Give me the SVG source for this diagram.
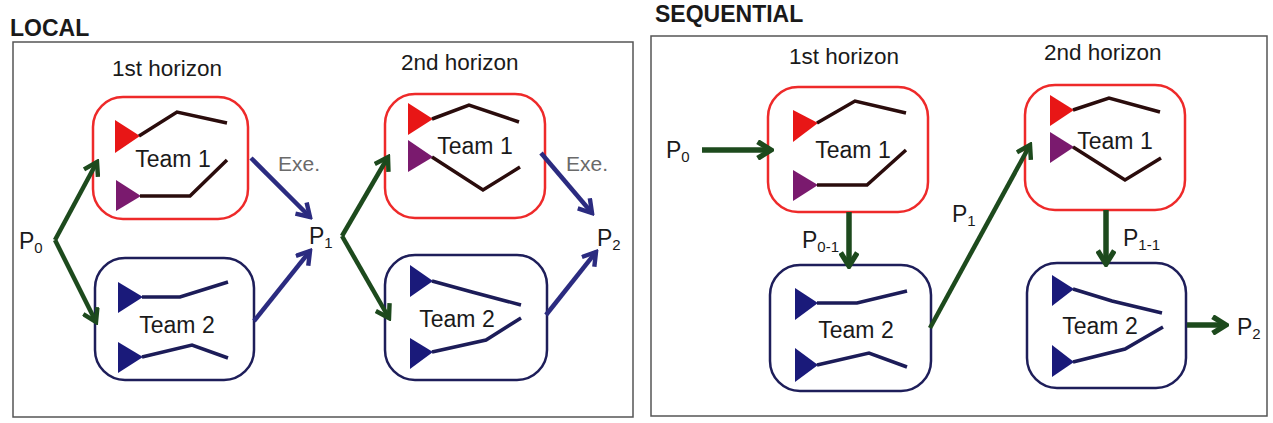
<svg xmlns="http://www.w3.org/2000/svg" width="1273" height="423" viewBox="0 0 1273 423">
<style>
text{font-family:"Liberation Sans",Arial,sans-serif;fill:#1a1a1a}
.title{font-size:23px;font-weight:bold}
.hz{font-size:22.5px}
.team{font-size:23px;text-anchor:middle}
.p{font-size:23px}
.sub{font-size:15px}
.exe{font-size:21px;fill:#6a6a6a}
.frame{fill:#fff;stroke:#555;stroke-width:1.5}
.t1{fill:#fff;stroke:#ee2a2a;stroke-width:2.5}
.t2{fill:#fff;stroke:#1e1e5a;stroke-width:2.5}
.l1{fill:none;stroke:#2a0c0c;stroke-width:3.5}
.l2{fill:none;stroke:#1c1c58;stroke-width:3.5}
.red{fill:#e81616}
.pur{fill:#7a1a6e}
.nav{fill:#1a1a7a}
.g{fill:none;stroke:#1d4a1d;stroke-width:4.5;marker-end:url(#ag)}
.gs{fill:none;stroke:#1d4a1d;stroke-width:5.5;marker-end:url(#ag2)}
.b{fill:none;stroke:#2b2b80;stroke-width:4.5;marker-end:url(#ab)}
</style>
<defs>
<marker id="ag" viewBox="0 0 12 12" refX="10" refY="6" markerWidth="19" markerHeight="19" markerUnits="userSpaceOnUse" orient="auto"><path d="M2,1 L10,6 L2,11" fill="none" stroke="#1d4a1d" stroke-width="2.8"/></marker>
<marker id="ag2" viewBox="0 0 12 12" refX="10" refY="6" markerWidth="20" markerHeight="20" markerUnits="userSpaceOnUse" orient="auto"><path d="M2,1 L10,6 L2,11" fill="none" stroke="#1d4a1d" stroke-width="3.2"/></marker>
<marker id="ab" viewBox="0 0 12 12" refX="10" refY="6" markerWidth="19" markerHeight="19" markerUnits="userSpaceOnUse" orient="auto"><path d="M2,1 L10,6 L2,11" fill="none" stroke="#2b2b80" stroke-width="2.8"/></marker>
</defs>
<rect width="1273" height="423" fill="#fff"/>

<!-- LOCAL panel -->
<g id="local-panel">
<text class="title" x="10" y="36">LOCAL</text>
<rect class="frame" x="13" y="42" width="620" height="375"/>
<text class="hz" x="112" y="76">1st horizon</text>
<text class="hz" x="401" y="70">2nd horizon</text>
</g>

<g id="L-team1-h1">
<rect class="t1" x="93" y="97" width="155" height="122" rx="30"/>
<polygon class="red" points="115,120 115,153 140,136"/>
<polyline class="l1" points="139,136 177,112 227,123"/>
<polygon class="pur" points="116,180 116,211 141,196"/>
<polyline class="l1" points="140,196 190,196 227,160"/>
<text class="team" x="173" y="167">Team 1</text>
</g>
<g id="L-team2-h1">
<rect class="t2" x="95" y="258" width="159" height="122" rx="30"/>
<polygon class="nav" points="118,282 118,313 143,297"/>
<polyline class="l2" points="142,297 180,297 228,282"/>
<polygon class="nav" points="118,342 118,373 143,357"/>
<polyline class="l2" points="142,357 192,345 228,358"/>
<text class="team" x="177" y="333">Team 2</text>
</g>
<g id="L-team1-h2">
<rect class="t1" x="385" y="94" width="160" height="124" rx="30"/>
<polygon class="red" points="408,103 408,135 433,119"/>
<polyline class="l1" points="432,119 469,105 519,122"/>
<polygon class="pur" points="408,140 408,172 433,157"/>
<polyline class="l1" points="432,157 483,190 520,167"/>
<text class="team" x="475" y="154">Team 1</text>
</g>
<g id="L-team2-h2">
<rect class="t2" x="385" y="255" width="162" height="125" rx="30"/>
<polygon class="nav" points="410,265 410,297 433,281"/>
<polyline class="l2" points="432,281 472,292 521,305"/>
<polygon class="nav" points="410,338 410,369 433,352"/>
<polyline class="l2" points="432,352 486,340 521,318"/>
<text class="team" x="457" y="327">Team 2</text>
</g>

<g id="L-labels">
<text class="p" x="19" y="249">P<tspan class="sub" dy="4">0</tspan></text>
<text class="p" x="309" y="244">P<tspan class="sub" dy="4">1</tspan></text>
<text class="p" x="597" y="246">P<tspan class="sub" dy="4">2</tspan></text>
<text class="exe" x="278" y="171">Exe.</text>
<text class="exe" x="566" y="171">Exe.</text>
</g>

<!-- SEQUENTIAL panel -->
<g id="seq-panel">
<text class="title" x="655" y="22">SEQUENTIAL</text>
<rect class="frame" x="651" y="36" width="616" height="380"/>
<text class="hz" x="789" y="64">1st horizon</text>
<text class="hz" x="1044" y="60">2nd horizon</text>
</g>

<g id="S-team1-h1">
<rect class="t1" x="768" y="87" width="160" height="125" rx="30"/>
<polygon class="red" points="793,110 793,142 818,123"/>
<polyline class="l1" points="817,123 855,101 906,113"/>
<polygon class="pur" points="793,170 793,201 818,185"/>
<polyline class="l1" points="817,185 867,185 906,150"/>
<text class="team" x="853" y="158">Team 1</text>
</g>
<g id="S-team2-h1">
<rect class="t2" x="770" y="265" width="161" height="126" rx="30"/>
<polygon class="nav" points="795,288 795,320 818,303"/>
<polyline class="l2" points="817,303 857,303 907,291"/>
<polygon class="nav" points="795,348 795,382 818,365"/>
<polyline class="l2" points="817,365 869,353 907,367"/>
<text class="team" x="856" y="338">Team 2</text>
</g>
<g id="S-team1-h2">
<rect class="t1" x="1025" y="85" width="160" height="125" rx="30"/>
<polygon class="red" points="1050,95 1050,126 1074,110"/>
<polyline class="l1" points="1073,110 1109,98 1160,112"/>
<polygon class="pur" points="1050,132 1050,163 1074,147"/>
<polyline class="l1" points="1073,147 1125,180 1161,158"/>
<text class="team" x="1115" y="149">Team 1</text>
</g>
<g id="S-team2-h2">
<rect class="t2" x="1027" y="263" width="159" height="125" rx="30"/>
<polygon class="nav" points="1052,275 1052,306 1074,289"/>
<polyline class="l2" points="1073,289 1112,301 1162,313"/>
<polygon class="nav" points="1052,345 1052,377 1074,362"/>
<polyline class="l2" points="1073,362 1125,349 1163,327"/>
<text class="team" x="1100" y="334">Team 2</text>
</g>

<g id="S-labels">
<text class="p" x="666" y="158">P<tspan class="sub" dy="4">0</tspan></text>
<text class="p" x="802" y="248">P<tspan class="sub" dy="4">0-1</tspan></text>
<text class="p" x="952" y="222">P<tspan class="sub" dy="4">1</tspan></text>
<text class="p" x="1123" y="246">P<tspan class="sub" dy="4">1-1</tspan></text>
<text class="p" x="1237" y="335">P<tspan class="sub" dy="4">2</tspan></text>
</g>

<g id="connectors">
<line class="g" x1="55" y1="240" x2="97" y2="162"/>
<line class="g" x1="55" y1="240" x2="96" y2="322"/>
<line class="b" x1="251" y1="158" x2="310" y2="217"/>
<line class="b" x1="254" y1="321" x2="310" y2="251"/>
<line class="g" x1="342" y1="236" x2="388" y2="157"/>
<line class="g" x1="342" y1="236" x2="389" y2="318"/>
<line class="b" x1="541" y1="153" x2="592" y2="213"/>
<line class="b" x1="546" y1="315" x2="596" y2="252"/>
<line class="gs" x1="702" y1="150" x2="771" y2="150"/>
<line class="gs" x1="849" y1="212" x2="849" y2="266"/>
<line class="g" x1="930" y1="328" x2="1030" y2="145"/>
<line class="gs" x1="1106" y1="210" x2="1106" y2="264"/>
<line class="gs" x1="1187" y1="325" x2="1226" y2="325"/>
</g>
</svg>
